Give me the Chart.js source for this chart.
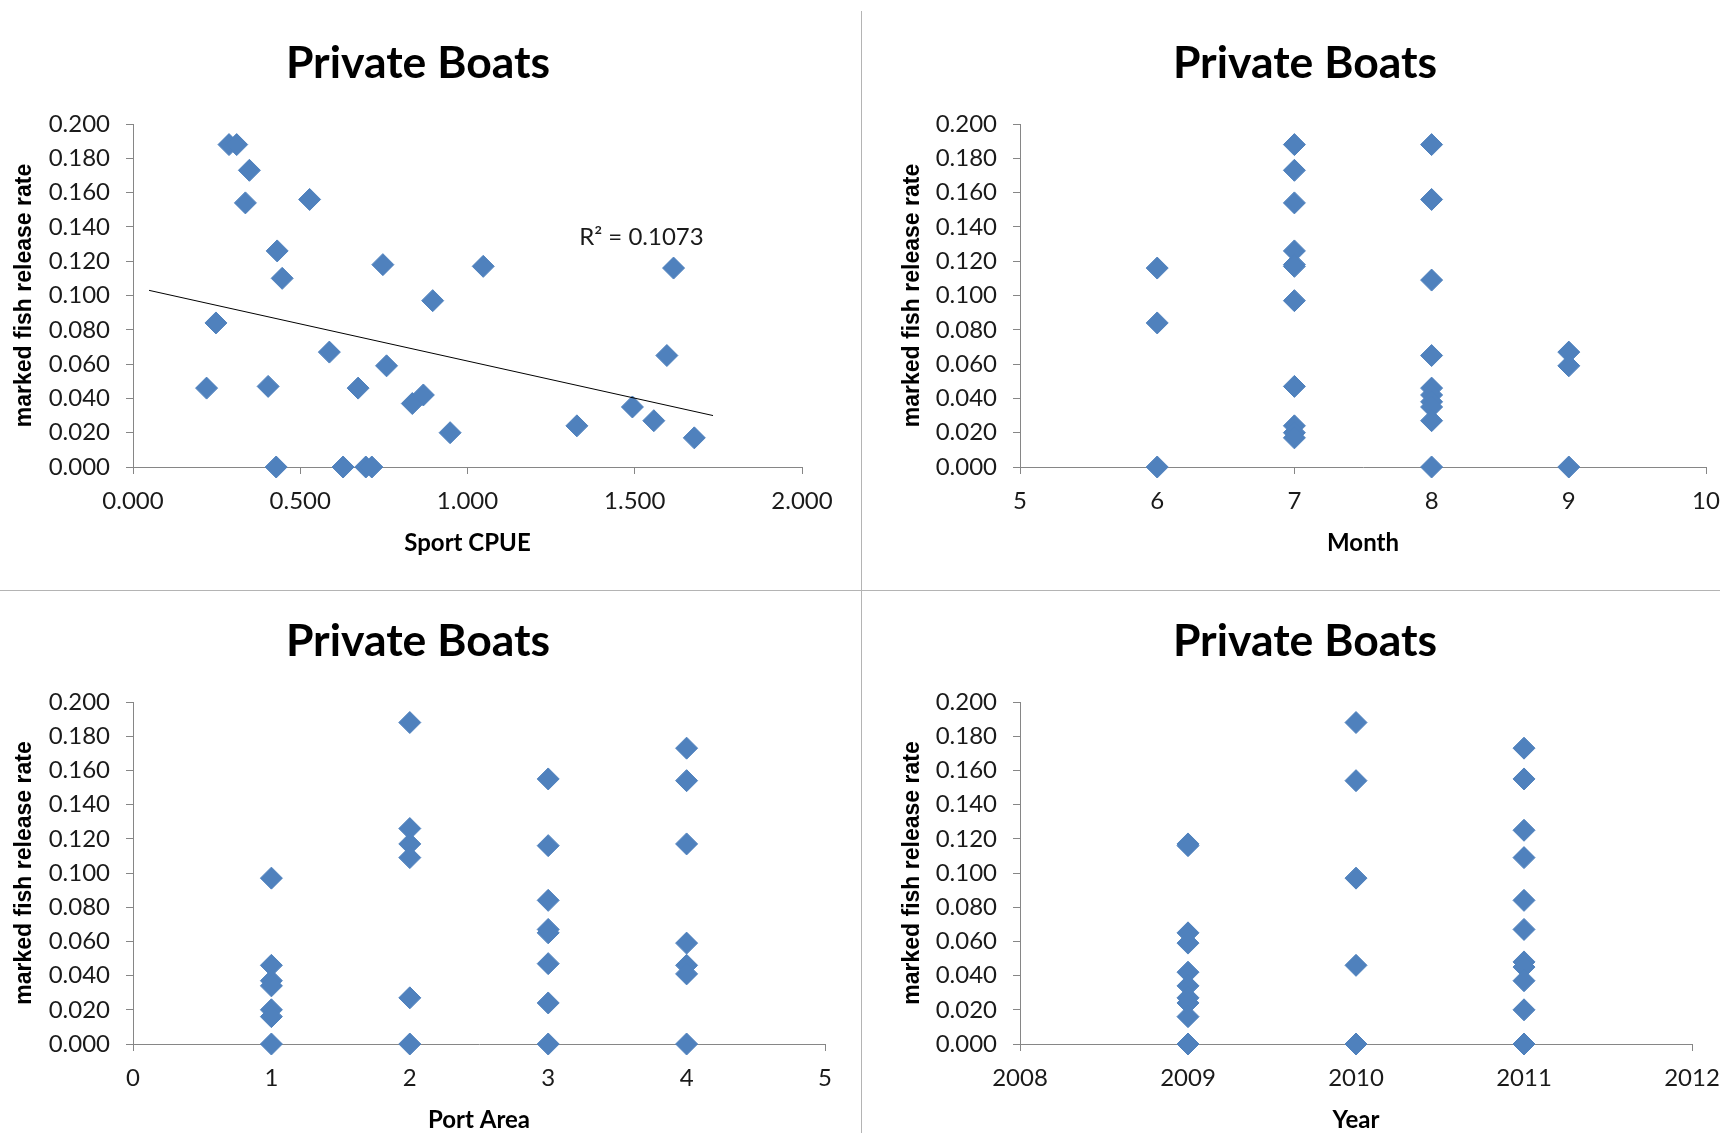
<!DOCTYPE html>
<html>
<head>
<meta charset="utf-8">
<title>Private Boats – marked fish release rate</title>
<script src="https://cdn.jsdelivr.net/npm/chart.js@4.4.1/dist/chart.umd.min.js"></script>
<style>
  html, body { margin: 0; padding: 0; background: #ffffff; overflow: hidden; }
  body { width: 1720px; height: 1133px; position: relative; }
  canvas { position: absolute; }
  .rule { position: absolute; background: #b4b4b4; }
</style>
</head>
<body>
<canvas id="cpueChart"  width="860" height="590" style="left:0;top:0"></canvas>
<canvas id="monthChart" width="880" height="590" style="left:861px;top:0"></canvas>
<canvas id="portChart"  width="860" height="560" style="left:0;top:591px"></canvas>
<canvas id="yearChart"  width="880" height="560" style="left:861px;top:591px"></canvas>
<div class="rule" style="left:861px;top:11px;width:1px;height:1122px"></div>
<div class="rule" style="left:0;top:590px;width:1720px;height:1px"></div>

<script>
// ---- Sport CPUE vs. marked fish release rate ----
const cpueX = [0.287, 0.310, 0.348, 0.336, 0.528, 0.431, 0.446, 0.747, 1.047, 1.616,
               0.896, 0.248, 0.587, 1.596, 0.758, 0.220, 0.404, 0.673, 0.835, 0.868,
               0.948, 1.327, 1.493, 1.557, 1.678, 0.428, 0.628, 0.696, 0.714];
const cpueRate = [0.188, 0.188, 0.173, 0.154, 0.156, 0.126, 0.110, 0.118, 0.117, 0.116,
                  0.097, 0.084, 0.067, 0.065, 0.059, 0.046, 0.047, 0.046, 0.037, 0.042,
                  0.020, 0.024, 0.035, 0.027, 0.017, 0.000, 0.000, 0.000, 0.000];
// linear trendline end points and its R² label
const trendX = [0.048, 1.734];
const trendY = [0.103, 0.030];
const r2Label = 'R² = 0.1073';
const r2Anchor = [1.52, 0.134];

// ---- Month ----
const monthX = [6, 6, 6,
                7, 7, 7, 7, 7, 7, 7, 7, 7, 7, 7,
                8, 8, 8, 8, 8, 8, 8, 8, 8, 8,
                9, 9, 9];
const monthRate = [0.116, 0.084, 0.000,
                   0.188, 0.173, 0.154, 0.126, 0.118, 0.117, 0.097, 0.047, 0.024, 0.020, 0.017,
                   0.188, 0.156, 0.109, 0.065, 0.046, 0.042, 0.038, 0.035, 0.027, 0.000,
                   0.067, 0.059, 0.000];

// ---- Port Area ----
const portX = [1, 1, 1, 1, 1, 1, 1,
               2, 2, 2, 2, 2, 2,
               3, 3, 3, 3, 3, 3, 3, 3,
               4, 4, 4, 4, 4, 4, 4];
const portRate = [0.097, 0.046, 0.037, 0.034, 0.020, 0.016, 0.000,
                  0.188, 0.126, 0.117, 0.109, 0.027, 0.000,
                  0.155, 0.116, 0.084, 0.067, 0.065, 0.047, 0.024, 0.000,
                  0.173, 0.154, 0.117, 0.059, 0.046, 0.041, 0.000];

// ---- Year ----
const yearX = [2009, 2009, 2009, 2009, 2009, 2009, 2009, 2009, 2009, 2009,
               2010, 2010, 2010, 2010, 2010,
               2011, 2011, 2011, 2011, 2011, 2011, 2011, 2011, 2011, 2011, 2011];
const yearRate = [0.117, 0.116, 0.065, 0.059, 0.042, 0.034, 0.027, 0.024, 0.016, 0.000,
                  0.188, 0.154, 0.097, 0.046, 0.000,
                  0.173, 0.155, 0.125, 0.109, 0.084, 0.067, 0.048, 0.045, 0.037, 0.020, 0.000];

const panelTitle = 'Private Boats';
const yTitle = 'marked fish release rate';

// ---- styling ----
const MARKER = '#4F81BD';
const AXIS = '#868686';
const TEXT = '#1a1a1a';
const SANS = 'Lato, "Open Sans", sans-serif';
const TICK_FONT = { family: SANS, size: 24 };

// Chart heading and trendline label, drawn relative to the plot area
const panelNotes = {
  id: 'panelNotes',
  afterDraw(chart, _args, opts) {
    const { ctx, chartArea } = chart;
    ctx.save();
    ctx.textAlign = 'center';
    ctx.textBaseline = 'middle';
    ctx.fillStyle = '#000';
    ctx.font = 'bold 44.5px ' + SANS;
    ctx.fillText(opts.heading, chartArea.left + 285, chartArea.top - 60);
    if (opts.note) {
      ctx.fillStyle = TEXT;
      ctx.font = '24px ' + SANS;
      ctx.fillText(opts.note.text,
        chart.scales.x.getPixelForValue(opts.note.at[0]),
        chart.scales.y.getPixelForValue(opts.note.at[1]));
    }
    ctx.restore();
  }
};

function makePanel(id, cfg) {
  const datasets = [];
  if (cfg.trend) {
    datasets.push({
      data: cfg.trend.x.map((x, i) => ({ x, y: cfg.trend.y[i] })),
      showLine: true,
      borderColor: '#000',
      borderWidth: 1,
      pointRadius: 0,
      fill: false,
      clip: false
    });
  }
  datasets.push({
    data: cfg.xs.map((x, i) => ({ x, y: cfg.ys[i] })),
    pointStyle: 'rectRot',
    pointRadius: 11,
    backgroundColor: MARKER,
    borderColor: MARKER,
    borderWidth: 1,
    showLine: false,
    clip: false
  });

  return new Chart(document.getElementById(id), {
    type: 'scatter',
    data: { datasets },
    plugins: [panelNotes],
    options: {
      responsive: false,
      animation: false,
      events: [],
      layout: { padding: { left: 0, right: cfg.padRight, top: cfg.padTop, bottom: 0 } },
      plugins: {
        legend: { display: false },
        tooltip: { enabled: false },
        title: { display: false },
        panelNotes: { heading: panelTitle, note: cfg.note || null }
      },
      scales: {
        x: {
          type: 'linear',
          min: cfg.xMin,
          max: cfg.xMax,
          ticks: {
            stepSize: cfg.xStep,
            autoSkip: false,
            maxRotation: 0,
            padding: 12.5,
            color: TEXT,
            font: TICK_FONT,
            callback: cfg.xFormat
          },
          grid: { display: true, drawOnChartArea: false, drawTicks: true, tickLength: 7, color: AXIS },
          border: { display: true, color: AXIS, width: 1 },
          title: {
            display: true,
            text: cfg.xTitle,
            color: '#000',
            font: { family: SANS, size: 24, weight: 'bold' },
            padding: { top: 0, bottom: cfg.xTitlePad }
          },
          afterFit: s => { s.height = cfg.xHeight; }
        },
        y: {
          type: 'linear',
          min: 0,
          max: 0.2,
          ticks: {
            stepSize: 0.02,
            padding: 16,
            color: TEXT,
            font: TICK_FONT,
            callback: v => Number(v).toFixed(3)
          },
          grid: { display: true, drawOnChartArea: false, drawTicks: true, tickLength: 7, color: AXIS },
          border: { display: true, color: AXIS, width: 1 },
          title: {
            display: true,
            text: yTitle,
            color: '#000',
            font: { family: '"Liberation Sans", Arial, sans-serif', size: 23, weight: 'bold' },
            padding: { top: cfg.yTitlePad, bottom: 0 }
          },
          afterFit: s => { s.width = cfg.yWidth; }
        }
      }
    }
  });
}

makePanel('cpueChart', {
  xs: cpueX, ys: cpueRate,
  trend: { x: trendX, y: trendY },
  note: { text: r2Label, at: r2Anchor },
  xMin: 0, xMax: 2, xStep: 0.5, xFormat: v => Number(v).toFixed(3),
  xTitle: 'Sport CPUE',
  padTop: 124, padRight: 58, yWidth: 133, xHeight: 123,
  yTitlePad: 10.9, xTitlePad: 32.6
});

makePanel('monthChart', {
  xs: monthX, ys: monthRate,
  xMin: 5, xMax: 10, xStep: 1, xFormat: v => String(v),
  xTitle: 'Month',
  padTop: 124, padRight: 35, yWidth: 159, xHeight: 123,
  yTitlePad: 38.2, xTitlePad: 32.6
});

makePanel('portChart', {
  xs: portX, ys: portRate,
  xMin: 0, xMax: 5, xStep: 1, xFormat: v => String(v),
  xTitle: 'Port Area',
  padTop: 111, padRight: 35, yWidth: 133, xHeight: 107,
  yTitlePad: 10.9, xTitlePad: 16.6
});

makePanel('yearChart', {
  xs: yearX, ys: yearRate,
  xMin: 2008, xMax: 2012, xStep: 1, xFormat: v => String(v),
  xTitle: 'Year',
  padTop: 111, padRight: 49, yWidth: 159, xHeight: 107,
  yTitlePad: 38.2, xTitlePad: 16.6
});
</script>
</body>
</html>
